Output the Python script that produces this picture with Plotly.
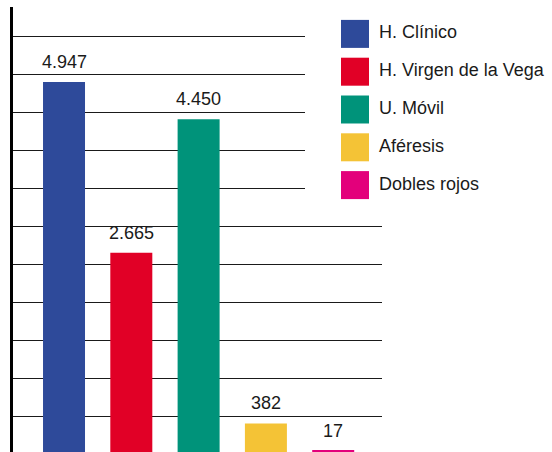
import plotly.graph_objects as go

# ---- data ----
categories = ["H. Clínico", "H. Virgen de la Vega", "U. Móvil", "Aféresis", "Dobles rojos"]
values = [4947, 2665, 4450, 382, 17]
value_labels = ["4.947", "2.665", "4.450", "382", "17"]
colors = ["#2E4A9A", "#E10026", "#00937A", "#F4C336", "#E3007B"]

# ---- layout helpers (styling only) ----
W, H = 552, 452
Y_MAX = 5949
grid_lower = [481, 988, 1495, 2002, 2509, 3016]
grid_upper = [3523, 4030, 4537, 5044, 5551]
GRID_COLOR = "#1a1a1a"
TEXT_COLOR = "#1a1a1a"
FONT = "Liberation Sans, Arial, Helvetica, sans-serif"

y_dom = [0, 445 / H]

fig = go.Figure()

# empty trace to materialise the short-grid subplot
fig.add_trace(go.Scatter(x=[], y=[], xaxis="x", yaxis="y", showlegend=False, hoverinfo="skip"))

# bars
fig.add_trace(go.Bar(
    x=categories, y=values, marker=dict(color=colors, line=dict(width=0)),
    width=0.624, xaxis="x2", yaxis="y2", showlegend=False, hoverinfo="skip",
))

# custom legend (swatches + labels)
fig.add_trace(go.Scatter(
    x=[14] * len(categories), y=categories, mode="markers",
    marker=dict(symbol="square", size=28, color=colors, line=dict(width=0)),
    xaxis="x3", yaxis="y3", showlegend=False, hoverinfo="skip",
))
fig.add_trace(go.Scatter(
    x=[38] * len(categories), y=categories, mode="text", text=categories,
    textposition="middle right", textfont=dict(size=18, color=TEXT_COLOR, family=FONT),
    xaxis="x3", yaxis="y3", showlegend=False, hoverinfo="skip",
))

annotations = [
    dict(x=c, y=v, xref="x2", yref="y2", text=lbl, showarrow=False,
         yanchor="middle", yshift=20, font=dict(size=18, color=TEXT_COLOR, family=FONT))
    for c, v, lbl in zip(categories, values, value_labels)
]

fig.update_layout(
    width=W, height=H,
    margin=dict(l=0, r=0, t=0, b=0),
    paper_bgcolor="white", plot_bgcolor="rgba(0,0,0,0)",
    showlegend=False, hovermode=False,
    font=dict(family=FONT, color=TEXT_COLOR),
    annotations=annotations,
    xaxis=dict(domain=[13 / W, 305 / W], range=[0, 1], anchor="y", visible=False),
    yaxis=dict(domain=y_dom, range=[0, Y_MAX], anchor="x", tickmode="array", tickvals=grid_upper,
               showgrid=True, gridcolor=GRID_COLOR, gridwidth=1.4, showticklabels=False,
               ticks="", showline=False, zeroline=False),
    xaxis2=dict(domain=[13 / W, 382 / W], range=[-0.758, 4.725], anchor="y2", type="category",
                showgrid=False, showticklabels=False, ticks="", zeroline=False, showline=False),
    yaxis2=dict(domain=y_dom, range=[0, Y_MAX], anchor="x2", tickmode="array", tickvals=grid_lower,
                showgrid=True, gridcolor=GRID_COLOR, gridwidth=1.4, showticklabels=False,
                ticks="", showline=True, linecolor="black", linewidth=3, zeroline=False),
    xaxis3=dict(domain=[341 / W, 1], range=[0, 211], anchor="y3", visible=False),
    yaxis3=dict(domain=[(H - 204) / H, (H - 15) / H], type="category", range=[4.5, -0.5],
                anchor="x3", visible=False),
)

fig.write_html(
    "out.html",
    config={"displayModeBar": False},
    post_script="document.body.style.margin='0';document.body.style.padding='0';",
)
